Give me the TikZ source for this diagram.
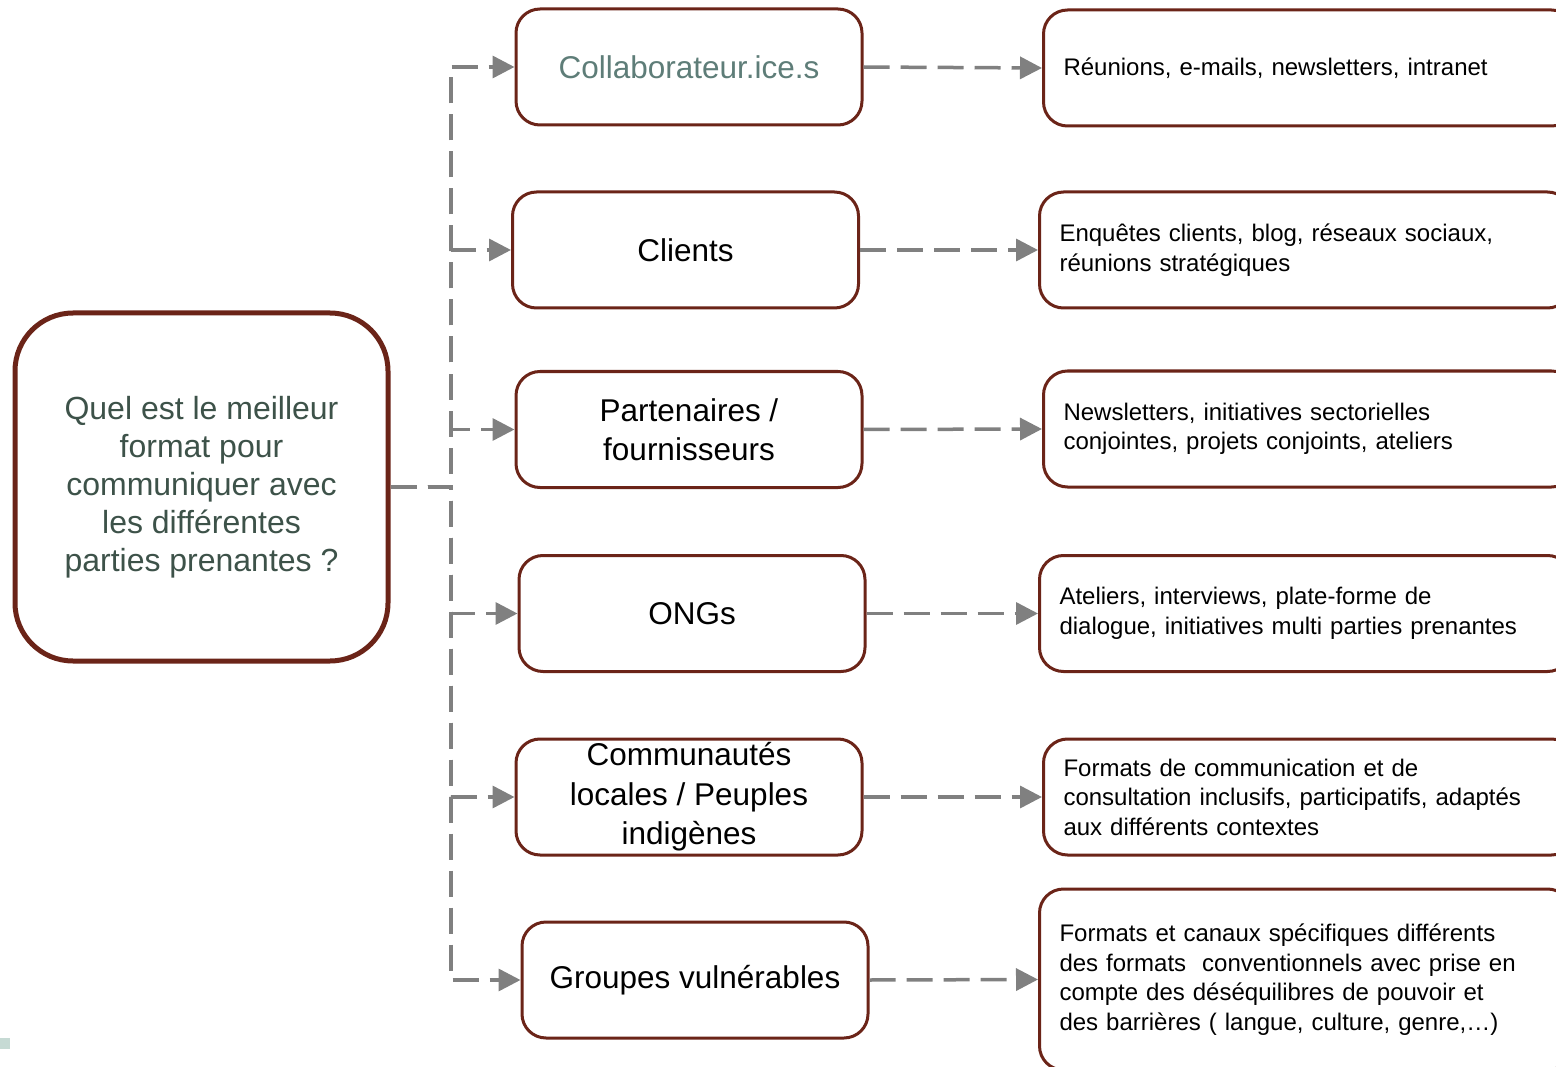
\documentclass[tikz,border=0pt]{standalone}
\usepackage{fontspec}
\setmainfont{Liberation Sans}
\usetikzlibrary{arrows.meta}
\definecolor{brd}{HTML}{6B2418}
\definecolor{qtxt}{HTML}{3D5249}
\definecolor{ctxt}{HTML}{5E7D78}
\definecolor{cgray}{HTML}{808080}
\definecolor{sqc}{HTML}{C6DAD4}
\begin{document}
\begin{tikzpicture}[x=1pt,y=-1pt,
  rootbox/.style={draw=brd,line width=5pt,rounded corners=58pt,fill=white,
    minimum width=373pt,minimum height=348pt,align=center,text=qtxt,
    font=\fontsize{32}{38}\selectfont},
  midbox/.style={draw=brd,line width=3pt,rounded corners=24pt,fill=white,
    minimum width=346pt,minimum height=116pt,align=center,
    font=\fontsize{31.5}{39.5}\selectfont},
  rbox/.style={draw=brd,line width=3pt,rounded corners=24pt,fill=white,
    minimum height=116pt,text width=492pt,inner xsep=20pt,align=left,anchor=west,
    font=\fontsize{24}{29.5}\selectfont},
  conn/.style={draw=cgray,line width=3.5pt,dash pattern=on 26pt off 11pt,
    -{Triangle[length=22pt,width=22pt]}}
]
\useasboundingbox (0,0) rectangle (1556,1067);
\begin{scope}
\clip (0,0) rectangle (1556,1067);
\node[rootbox] (root) at (201.5,487) {Quel est le meilleur\\format pour\\communiquer avec\\les différentes\\parties prenantes ?};
\node[midbox,text=ctxt] (m1) at (689,67) {Collaborateur.ice.s};
\node[midbox] (m2) at (685.5,250) {Clients};
\node[midbox] (m3) at (689,429.5) {Partenaires /\\fournisseurs};
\node[midbox] (m4) at (692,613.5) {ONGs};
\node[midbox] (m5) at (689,797) {Communautés\\locales / Peuples\\indigènes};
\node[midbox] (m6) at (695,980) {Groupes vulnérables};
\node[rbox] (r1) at (1042,68) {Réunions, e-mails, newsletters, intranet};
\node[rbox] (r2) at (1038,250) {Enquêtes clients, blog, réseaux sociaux,\\réunions stratégiques};
\node[rbox] (r3) at (1042,429) {Newsletters, initiatives sectorielles\\conjointes, projets conjoints, ateliers};
\node[rbox] (r4) at (1038,613.5) {Ateliers, interviews, plate-forme de\\dialogue, initiatives multi parties prenantes};
\node[rbox] (r5) at (1042,797) {Formats de communication et de\\consultation inclusifs, participatifs, adaptés\\aux différents contextes};
\node[rbox,minimum height=181pt] (r6) at (1038,979.5) {Formats et canaux spécifiques différents\\des formats\ \ conventionnels avec prise en\\compte des déséquilibres de pouvoir et\\des barrières ( langue, culture, genre,…)};
\coordinate (sp) at (451,487);
\foreach \m in {m1,m2,m3,m4,m5,m6}{
  \draw[conn] (root.east) -- (sp) |- (\m.west);
}
\draw[conn] (m1.east) -- (r1.west);
\draw[conn] (m2.east) -- (r2.west);
\draw[conn] (m3.east) -- (r3.west);
\draw[conn] (m4.east) -- (r4.west);
\draw[conn] (m5.east) -- (r5.west);
\draw[conn] (m6.east) -- (r6.west);
\fill[sqc] (0,1038) rectangle (10,1049);
\end{scope}
\end{tikzpicture}
\end{document}
